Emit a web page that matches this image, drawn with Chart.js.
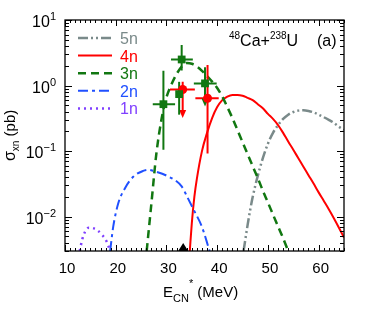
<!DOCTYPE html>
<html>
<head>
<meta charset="utf-8">
<script src="https://cdn.jsdelivr.net/npm/chart.js@4.4.0/dist/chart.umd.min.js"></script>
<style>
    html, body { margin: 0; padding: 0; background: #fff; }
    #wrap { width: 374px; height: 320px; }
</style>
</head>
<body>
<div id="wrap"><canvas id="chart"></canvas></div>
<script>
// Calculated cross sections (pb) vs excitation energy (MeV)
const e1n = [12.9, 13.4, 14.0, 14.7, 15.5, 16.4, 17.3, 18.2, 18.9];
const s1n = [0.003, 0.0045, 0.006, 0.0068, 0.0067, 0.0062, 0.0053, 0.0042, 0.003];

const e2n = [18.9, 19.5, 20.5, 21.8, 23.5, 25.4, 26.5, 27.4, 30.1, 33.0, 34.1, 35.4, 37.0, 38.5];
const s2n = [0.003, 0.007, 0.016, 0.027, 0.041, 0.05, 0.052, 0.05, 0.042, 0.029, 0.02, 0.0126, 0.007, 0.003];

const e3n = [26.1, 27.0, 28.0, 29.0, 30.0, 31.0, 32.0, 33.0, 34.0, 35.0, 36.0, 37.0, 38.0, 39.0, 40.0,
             41.0, 42.0, 43.0, 44.0, 45.0, 46.0, 47.0, 48.0, 49.0, 50.0, 51.0, 52.0, 53.0, 54.0];
const s3n = [0.003, 0.015, 0.09, 0.3, 0.66, 1.05, 1.5, 1.95, 2.2, 2.15, 1.95, 1.68, 1.4, 1.15, 0.92,
             0.68, 0.47, 0.32, 0.21, 0.137, 0.09, 0.059, 0.039, 0.025, 0.0165, 0.0108, 0.0071, 0.0047, 0.003];

const e4n = [34.6, 35.0, 35.5, 36.0, 37.0, 38.0, 39.0, 40.0, 41.0, 42.0, 43.0, 44.0, 45.0, 46.0, 47.0, 48.0,
             49.0, 50.0, 51.0, 52.0, 53.0, 54.0, 55.0, 56.0, 57.0, 58.0, 59.0, 60.0, 61.0, 62.0, 63.0, 64.0, 65.0];
const s4n = [0.003, 0.008, 0.02, 0.038, 0.1, 0.19, 0.32, 0.47, 0.6, 0.68, 0.72, 0.72, 0.7, 0.65, 0.6, 0.52,
             0.45, 0.37, 0.31, 0.25, 0.19, 0.14, 0.105, 0.078, 0.058, 0.043, 0.032, 0.0235, 0.0175, 0.013, 0.0095, 0.0068, 0.0048];

const e5n = [45.2, 46.0, 46.5, 47.0, 48.0, 49.0, 50.0, 51.0, 52.0, 53.0, 54.0, 55.0, 56.0, 57.0,
             58.0, 59.0, 60.0, 61.0, 62.0, 63.0, 64.0, 65.0];
const s5n = [0.003, 0.0075, 0.0126, 0.02, 0.042, 0.078, 0.13, 0.19, 0.25, 0.31, 0.36, 0.395, 0.415, 0.42,
             0.41, 0.39, 0.36, 0.33, 0.3, 0.27, 0.235, 0.21];

// Measured points: 3n (green squares) and 4n (red circles)
const exp3nE   = [29.4, 33.0, 32.5, 37.6];
const exp3nS   = [0.52, 2.5, 0.74, 1.08];
const exp3nELo = [27.3, 30.9, 32.5, 35.4];
const exp3nEHi = [31.7, 35.2, 32.5, 39.9];
const exp3nSLo = [0.105, 1.7, 0.36, 0.48];
const exp3nSHi = [1.69, 4.16, 1.14, 1.9];
const exp3nLim = [false, false, false, true];

const exp4nE   = [33.2, 38.1];
const exp4nS   = [0.87, 0.64];
const exp4nELo = [30.7, 35.7];
const exp4nEHi = [35.6, 40.3];
const exp4nSLo = [0.32, 0.092];
const exp4nSHi = [1.14, 2.06];
const exp4nLim = [true, false];

// Bass barrier marker on the energy axis
const barrierE = [33.3];

// Tick labels
const xTickVals = [10, 20, 30, 40, 50, 60];
const yTickExps = [1, 0, -1, -2];

const green = '#117711';
const red = '#ff0000';

function pts(xs, ys) {
    return xs.map((v, i) => ({ x: v, y: ys[i] }));
}

function richText(ctx, parts, x, y) {
    // parts: [text, size, dy]
    let cx = x;
    parts.forEach(p => {
        ctx.font = p[1] + 'px "Liberation Sans", Arial, sans-serif';
        ctx.fillText(p[0], cx, y + p[2]);
        cx += ctx.measureText(p[0]).width;
    });
    return cx;
}

function richWidth(ctx, parts) {
    let w = 0;
    parts.forEach(p => {
        ctx.font = p[1] + 'px "Liberation Sans", Arial, sans-serif';
        w += ctx.measureText(p[0]).width;
    });
    return w;
}

function drawErrorBars(chart, xs, ys, xlo, xhi, ylo, yhi, lim, color) {
    const { ctx, scales: { x, y } } = chart;
    ctx.save();
    ctx.strokeStyle = color;
    ctx.fillStyle = color;
    ctx.lineWidth = 2;
    xs.forEach((v, i) => {
        const px = x.getPixelForValue(v), py = y.getPixelForValue(ys[i]);
        ctx.beginPath();
        ctx.moveTo(x.getPixelForValue(xlo[i]), py);
        ctx.lineTo(x.getPixelForValue(xhi[i]), py);
        const yb = y.getPixelForValue(ylo[i]);
        ctx.moveTo(px, y.getPixelForValue(yhi[i]));
        ctx.lineTo(px, lim[i] ? yb - 6 : yb);
        ctx.stroke();
        if (lim[i]) {
            ctx.beginPath();
            ctx.moveTo(px - 3.5, yb - 8);
            ctx.lineTo(px + 3.5, yb - 8);
            ctx.lineTo(px, yb);
            ctx.closePath();
            ctx.fill();
        }
    });
    ctx.restore();
}

const decor = {
    id: 'decor',
    beforeDatasetDraw(chart, args) {
        if (args.index !== 1) return;
        drawErrorBars(chart, exp4nE, exp4nS, exp4nELo, exp4nEHi, exp4nSLo, exp4nSHi, exp4nLim, red);
        drawErrorBars(chart, exp3nE, exp3nS, exp3nELo, exp3nEHi, exp3nSLo, exp3nSHi, exp3nLim, green);
    },
    afterDraw(chart) {
        const { ctx, chartArea: a, scales: { x, y } } = chart;
        ctx.save();
        ctx.strokeStyle = '#000';
        ctx.fillStyle = '#000';
        ctx.lineWidth = 1.3;
        ctx.strokeRect(a.left, a.top, a.right - a.left, a.bottom - a.top);

        // ticks on all four sides
        ctx.lineWidth = 1;
        ctx.beginPath();
        for (let v = 10; v <= 65; v++) {
            const px = Math.round(x.getPixelForValue(v)) + 0.5;
            const len = v % 10 === 0 ? 6 : 3;
            ctx.moveTo(px, a.bottom); ctx.lineTo(px, a.bottom - len);
            ctx.moveTo(px, a.top); ctx.lineTo(px, a.top + len);
        }
        for (let e = -3; e <= 1; e++) {
            for (let m = 1; m <= 9; m++) {
                const v = m * Math.pow(10, e);
                if (v < y.min * 0.999 || v > y.max * 1.001) continue;
                const py = Math.round(y.getPixelForValue(v)) + 0.5;
                const len = m === 1 ? 7 : 4;
                ctx.moveTo(a.left, py); ctx.lineTo(a.left + len, py);
                ctx.moveTo(a.right, py); ctx.lineTo(a.right - len, py);
            }
        }
        ctx.stroke();

        // tick labels
        ctx.textBaseline = 'alphabetic';
        ctx.textAlign = 'center';
        ctx.font = '15px "Liberation Sans", Arial, sans-serif';
        xTickVals.forEach(v => {
            ctx.fillText(String(v), x.getPixelForValue(v) + 2, a.bottom + 22);
        });
        ctx.textAlign = 'left';
        yTickExps.forEach(e => {
            const py = y.getPixelForValue(Math.pow(10, e));
            const parts = [['10', 16, 0], [String(e).replace('-', '\u2212'), 11, -7]];
            const w = richWidth(ctx, parts);
            richText(ctx, parts, 56 - w, py + 7);
        });

        // axis titles
        richText(ctx, [['E', 15, 0], ['CN', 11, 5], ['*', 11, -10], [' (MeV)', 15, 0]], 163, 297);
        ctx.save();
        ctx.translate(15, 161);
        ctx.rotate(-Math.PI / 2);
        richText(ctx, [['\u03c3', 16, 0], ['xn', 10, 4], [' (pb)', 15, 0]], 0, 0);
        ctx.restore();

        // reaction label
        richText(ctx, [['48', 10, -7], ['Ca+', 16, 0], ['238', 10, -7], ['U', 16, 0]], 229, 46);
        ctx.font = '16px "Liberation Sans", Arial, sans-serif';
        ctx.fillText('(a)', 317, 46);

        // legend
        const order = [6, 5, 4, 3, 2];
        order.forEach((di, k) => {
            const ds = chart.data.datasets[di];
            const ly = 38 + k * 17.6;
            ctx.save();
            ctx.strokeStyle = ds.borderColor;
            ctx.lineWidth = ds.borderWidth;
            ctx.setLineDash(ds.borderDash || []);
            ctx.beginPath();
            ctx.moveTo(78, ly);
            ctx.lineTo(112, ly);
            ctx.stroke();
            ctx.restore();
            ctx.fillStyle = ds.borderColor;
            ctx.font = '16px "Liberation Sans", Arial, sans-serif';
            ctx.fillText(ds.label, 120, ly + 6);
        });

        // barrier triangle
        ctx.fillStyle = '#000';
        barrierE.forEach(v => {
            const px = x.getPixelForValue(v);
            ctx.beginPath();
            ctx.moveTo(px - 5, a.bottom);
            ctx.lineTo(px + 5, a.bottom);
            ctx.lineTo(px, a.bottom - 8);
            ctx.closePath();
            ctx.fill();
        });
        ctx.restore();
    }
};

function curve(label, xs, ys, color, dash, width) {
    return {
        type: 'line',
        label: label,
        data: pts(xs, ys),
        borderColor: color,
        borderWidth: width,
        borderDash: dash,
        pointRadius: 0,
        fill: false,
        cubicInterpolationMode: 'monotone'
    };
}

new Chart(document.getElementById('chart').getContext('2d'), {
    type: 'scatter',
    data: {
        datasets: [
            { label: '3n exp', data: pts(exp3nE, exp3nS), pointStyle: 'rect', pointRadius: 5.5,
              backgroundColor: green, borderColor: green, borderWidth: 0 },
            { label: '4n exp', data: pts(exp4nE, exp4nS), pointStyle: 'circle', pointRadius: 4.5,
              backgroundColor: red, borderColor: red, borderWidth: 0 },
            curve('1n', e1n, s1n, '#8040ff', [2, 4], 2.5),
            curve('2n', e2n, s2n, '#2050ff', [10, 4, 3, 4], 2),
            curve('3n', e3n, s3n, green, [8, 5], 2.5),
            curve('4n', e4n, s4n, red, [], 2),
            curve('5n', e5n, s5n, '#7a8a8a', [10, 3, 2, 3, 2, 3], 2.5)
        ]
    },
    options: {
        responsive: true,
        maintainAspectRatio: false,
        animation: false,
        layout: { padding: { left: 65, right: 30, top: 20, bottom: 69 } },
        plugins: {
            legend: { display: false },
            tooltip: { enabled: false }
        },
        scales: {
            x: { type: 'linear', min: 10, max: 65, display: false },
            y: { type: 'logarithmic', min: 0.003, max: 10, display: false }
        }
    },
    plugins: [decor]
});
</script>
</body>
</html>
